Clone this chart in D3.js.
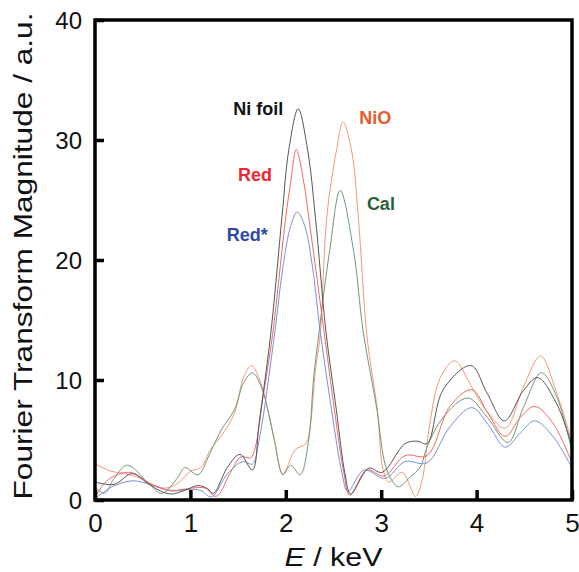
<!DOCTYPE html>
<html>
<head>
<meta charset="utf-8">
<script src="https://cdn.jsdelivr.net/npm/d3@7"></script>
<style>
  html, body { margin: 0; padding: 0; background: #fff; }
  svg { display: block; font-family: "Liberation Sans", Arial, Helvetica, sans-serif; }
</style>
</head>
<body>
<svg id="chart" width="579" height="572"></svg>
<script>
// Fourier transform magnitude spectra (a.u.) versus energy E (keV)
const niFoilE = [0,0.2,0.39,0.55,0.7,0.81,0.94,1.08,1.18,1.24,1.39,1.52,1.65,1.72,1.84,1.96,2.03,2.13,2.23,2.31,2.42,2.53,2.62,2.68,2.87,3.01,3.25,3.38,3.48,3.65,3.94,4.11,4.29,4.49,4.64,4.84,5.0];
const niFoilM = [1.5,1.3,2.2,1.4,0.7,0.5,0.8,1.2,0.95,0.55,2.75,3.8,2.5,6.4,13.7,23.6,29.1,32.6,29.1,23.6,14.1,7.5,2.2,0.5,2.65,2.3,4.7,4.9,4.7,9.2,11.2,8.9,6.6,9.1,10.2,8.0,4.5];

const redE = [0,0.14,0.37,0.6,0.8,1.02,1.15,1.27,1.42,1.53,1.63,1.68,1.76,1.86,2.0,2.05,2.11,2.19,2.24,2.40,2.51,2.61,2.67,2.85,3.03,3.25,3.48,3.72,3.95,4.12,4.30,4.46,4.61,4.80,5.0];
const redM = [0.2,1.7,2.3,1.25,0.8,1.0,1.0,0.3,2.3,3.6,3.5,4.4,8.5,13.7,23.6,26.4,29.2,26.4,23.6,14.1,7.5,2.2,0.4,2.5,2.0,3.7,3.7,7.8,9.2,7.2,5.3,6.9,7.8,6.4,3.1];

const redStarE = [0,0.18,0.39,0.6,0.8,1.02,1.12,1.22,1.39,1.55,1.65,1.72,1.88,1.97,2.05,2.12,2.20,2.28,2.36,2.48,2.59,2.65,2.82,3.04,3.25,3.48,3.72,3.95,4.12,4.30,4.46,4.61,4.80,5.0];
const redStarM = [0.1,1.1,1.6,1.25,0.75,0.9,0.75,0.25,2.2,3.2,3.0,5.0,13.7,19.4,22.8,24.0,22.8,19.4,14.1,7.5,2.2,0.7,2.5,1.8,3.2,3.1,6.1,7.7,6.3,4.4,5.6,6.6,5.3,2.65];

const nioE = [0,0.17,0.31,0.48,0.66,0.75,0.87,1.0,1.11,1.21,1.32,1.46,1.56,1.64,1.74,1.82,1.88,1.97,2.10,2.21,2.26,2.31,2.36,2.43,2.53,2.60,2.69,2.76,2.85,2.96,3.02,3.08,3.22,3.36,3.43,3.51,3.62,3.77,3.93,4.07,4.30,4.49,4.67,4.84,5.0];
const nioM = [3.0,2.4,2.2,1.8,1.1,1.0,1.4,2.4,2.7,4.2,5.3,7.2,10.3,11.2,9.7,7.2,5.0,2.2,4.2,4.7,6.4,10.8,13.7,23.6,29.1,31.5,29.1,23.6,13.7,7.5,2.5,1.5,2.3,0.3,1.7,6.4,10.2,11.6,9.7,7.8,6.0,9.4,12.0,8.9,4.8];

const calE = [0,0.1,0.2,0.34,0.56,0.7,0.87,0.94,1.08,1.2,1.32,1.46,1.56,1.65,1.74,1.82,1.88,1.97,2.05,2.15,2.24,2.29,2.35,2.46,2.57,2.71,2.81,2.95,3.06,3.18,3.3,3.41,3.48,3.65,3.91,4.11,4.33,4.49,4.68,4.84,5.0];
const calM = [1.1,0.55,1.8,2.9,1.4,0.55,1.9,2.7,2.1,3.8,5.8,7.5,9.8,10.6,9.5,7.2,5.0,2.1,2.9,2.1,5.0,10.0,14.1,20.8,25.8,20.8,14.1,7.8,2.5,1.1,1.9,2.75,4.4,6.9,8.5,6.9,4.8,7.7,10.6,8.6,4.0];

const seriesNames = ["NiO", "Cal", "Red*", "Red", "Ni foil"];
const lineColors  = ["#f5977a", "#6f9a78", "#7d8fd8", "#f06868", "#555555"];
const labelColors = ["#e8592a", "#2c5e34", "#2f48a8", "#ec2a33", "#111111"];
// label anchor points in data units (energy, magnitude)
const labelE = [2.77, 2.85, 1.38, 1.5, 1.45];
const labelM = [31.3, 24.2, 21.6, 26.6, 32.1];

const xTicks = [0, 1, 2, 3, 4, 5];
const yTicks = [0, 10, 20, 30, 40];

const seriesE = [nioE, calE, redStarE, redE, niFoilE];
const seriesM = [nioM, calM, redStarM, redM, niFoilM];

const svg = d3.select("#chart");
const padL = 95, padR = 572, padT = 20, padB = 500;

const x = d3.scaleLinear().domain([0, 5]).range([padL, padR]);
const y = d3.scaleLinear().domain([0, 40]).range([padB, padT]);

const line = d3.line()
  .x(d => x(d[0]))
  .y(d => y(d[1]))
  .curve(d3.curveCatmullRom.alpha(0.5));

// spectra
const g = svg.append("g");
seriesNames.forEach((name, i) => {
  const pts = seriesE[i].map((e, k) => [e, seriesM[i][k]]);
  g.append("path")
    .datum(pts)
    .attr("fill", "none")
    .attr("stroke", lineColors[i])
    .attr("stroke-width", 1)
    .attr("d", line);
});

// frame
svg.append("rect")
  .attr("x", padL).attr("y", padT)
  .attr("width", padR - padL).attr("height", padB - padT)
  .attr("fill", "none").attr("stroke", "#000").attr("stroke-width", 3.5);

// inward ticks
const xAxis = d3.axisBottom(x).tickValues(xTicks).tickSize(-10).tickPadding(10).tickFormat(d3.format("d"));
const gx = svg.append("g").attr("transform", `translate(0,${padB})`).call(xAxis);
gx.select(".domain").remove();
gx.selectAll(".tick line").attr("stroke", "#000").attr("stroke-width", 3.5);
gx.selectAll(".tick text").attr("font-size", 26).attr("fill", "#111")
  .attr("font-family", "'Liberation Sans', Arial, sans-serif")
  .attr("y", 0).attr("dy", 32);

const yAxis = d3.axisLeft(y).tickValues(yTicks).tickSize(-9).tickPadding(13).tickFormat(d3.format("d"));
const gy = svg.append("g").attr("transform", `translate(${padL},0)`).call(yAxis);
gy.select(".domain").remove();
gy.selectAll(".tick line").attr("stroke", "#000").attr("stroke-width", 3.5);
gy.selectAll(".tick text").attr("font-size", 24).attr("fill", "#111")
  .attr("font-family", "'Liberation Sans', Arial, sans-serif")
  .attr("x", -13).attr("dy", "0.36em");

// series labels
seriesNames.forEach((name, i) => {
  svg.append("text")
    .attr("x", x(labelE[i])).attr("y", y(labelM[i]))
    .attr("text-anchor", "start")
    .attr("font-size", 18).attr("font-weight", "bold")
    .attr("fill", labelColors[i])
    .text(name);
});

// axis titles
const xt = svg.append("text")
  .attr("x", (padL + padR) / 2).attr("y", 566)
  .attr("text-anchor", "middle").attr("font-size", 26).attr("fill", "#111")
  .attr("textLength", 98).attr("lengthAdjust", "spacingAndGlyphs");
xt.append("tspan").attr("font-style", "italic").text("E");
xt.append("tspan").text(" / keV");

svg.append("text")
  .attr("transform", "translate(32,256) rotate(-90)")
  .attr("text-anchor", "middle").attr("font-size", 26).attr("fill", "#111")
  .attr("textLength", 487).attr("lengthAdjust", "spacingAndGlyphs")
  .text("Fourier Transform Magnitude / a.u.");
</script>
</body>
</html>
